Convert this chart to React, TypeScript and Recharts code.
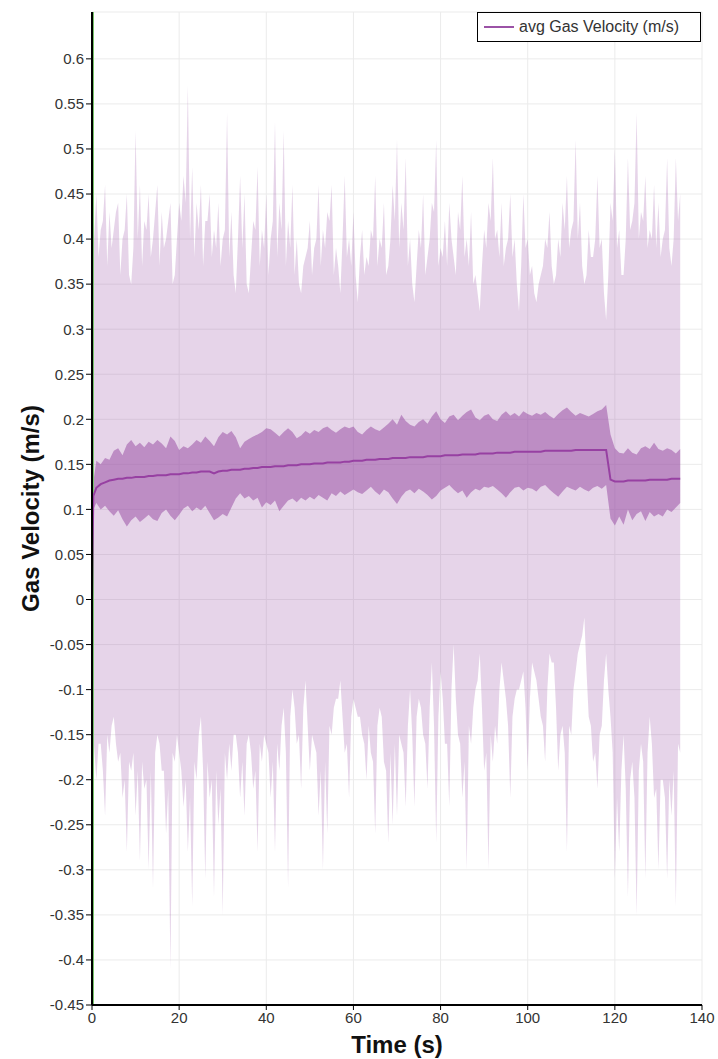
import {
    ComposedChart,
    Area,
    Line,
    XAxis,
    YAxis,
    CartesianGrid,
    ReferenceLine
} from "recharts";

// sample times (s): start-up point at 0.3 s, then one sample per second
const sampleTimes = [0, 0.3, ...Array.from({ length: 135 }, (_, i) => i + 1)];
// extra envelope samples half-way between the whole seconds (1.5 ... 134.5)
const halfTimes = Array.from({ length: 134 }, (_, i) => i + 1.5);

// average gas velocity (m/s)
const avgVelocity = [
    0, 0.115,
    0.124, 0.128, 0.130, 0.132, 0.133, 0.134, 0.134, 0.135, 0.135, 0.136,
    0.136, 0.136, 0.137, 0.137, 0.138, 0.138, 0.138, 0.139, 0.139, 0.139,
    0.140, 0.140, 0.141, 0.141, 0.142, 0.142, 0.142, 0.140, 0.142, 0.143,
    0.143, 0.144, 0.144, 0.144, 0.145, 0.145, 0.146, 0.146, 0.147, 0.147,
    0.147, 0.148, 0.148, 0.148, 0.149, 0.149, 0.149, 0.150, 0.150, 0.150,
    0.151, 0.151, 0.151, 0.152, 0.152, 0.152, 0.152, 0.153, 0.153, 0.154,
    0.154, 0.154, 0.155, 0.155, 0.155, 0.156, 0.156, 0.156, 0.157, 0.157,
    0.157, 0.157, 0.158, 0.158, 0.158, 0.158, 0.159, 0.159, 0.159, 0.159,
    0.160, 0.160, 0.160, 0.160, 0.161, 0.161, 0.161, 0.161, 0.162, 0.162,
    0.162, 0.162, 0.163, 0.163, 0.163, 0.163, 0.164, 0.164, 0.164, 0.164,
    0.164, 0.164, 0.164, 0.165, 0.165, 0.165, 0.165, 0.165, 0.165, 0.165,
    0.166, 0.166, 0.166, 0.166, 0.166, 0.166, 0.166, 0.166, 0.133, 0.131,
    0.131, 0.131, 0.132, 0.132, 0.132, 0.132, 0.132, 0.133, 0.133, 0.133,
    0.133, 0.133, 0.134, 0.134, 0.134
];

// upper / lower edge of the dark band around the average
const bandHigh = [
    0, 0.13,
    0.154, 0.150, 0.157, 0.155, 0.165, 0.168, 0.160, 0.172, 0.177, 0.170,
    0.174, 0.169, 0.175, 0.172, 0.177, 0.173, 0.168, 0.181, 0.176, 0.166,
    0.170, 0.168, 0.172, 0.177, 0.174, 0.181, 0.176, 0.170, 0.180, 0.186,
    0.183, 0.187, 0.180, 0.168, 0.175, 0.178, 0.181, 0.183, 0.186, 0.190,
    0.189, 0.185, 0.181, 0.186, 0.190, 0.186, 0.179, 0.182, 0.187, 0.184,
    0.188, 0.186, 0.190, 0.192, 0.188, 0.185, 0.189, 0.192, 0.190, 0.192,
    0.186, 0.183, 0.188, 0.192, 0.189, 0.187, 0.191, 0.195, 0.200, 0.194,
    0.205, 0.198, 0.194, 0.192, 0.197, 0.200, 0.195, 0.203, 0.209, 0.200,
    0.196, 0.203, 0.205, 0.199, 0.204, 0.208, 0.211, 0.202, 0.199, 0.204,
    0.206, 0.200, 0.198, 0.205, 0.209, 0.204, 0.207, 0.203, 0.209, 0.206,
    0.204, 0.207, 0.205, 0.208, 0.204, 0.201, 0.206, 0.210, 0.213, 0.208,
    0.204, 0.207, 0.205, 0.203, 0.206, 0.209, 0.211, 0.216, 0.183, 0.168,
    0.163, 0.162, 0.168, 0.163, 0.161, 0.168, 0.170, 0.167, 0.174, 0.167,
    0.165, 0.168, 0.166, 0.162, 0.167
];

const bandLow = [
    0, 0.10,
    0.107, 0.100, 0.104, 0.098, 0.093, 0.099, 0.089, 0.081, 0.088, 0.092,
    0.086, 0.090, 0.094, 0.089, 0.087, 0.096, 0.100, 0.093, 0.088, 0.094,
    0.101, 0.104, 0.098, 0.102, 0.099, 0.104, 0.096, 0.088, 0.091, 0.095,
    0.092, 0.102, 0.112, 0.118, 0.112, 0.115, 0.110, 0.113, 0.102, 0.108,
    0.105, 0.110, 0.098, 0.104, 0.110, 0.112, 0.108, 0.113, 0.110, 0.114,
    0.111, 0.116, 0.113, 0.110, 0.118, 0.115, 0.120, 0.116, 0.119, 0.122,
    0.119, 0.117, 0.121, 0.125, 0.120, 0.116, 0.122, 0.119, 0.112, 0.106,
    0.114, 0.120, 0.122, 0.118, 0.123, 0.120, 0.116, 0.111, 0.115, 0.121,
    0.124, 0.127, 0.122, 0.118, 0.121, 0.113, 0.119, 0.123, 0.121, 0.125,
    0.124, 0.126, 0.122, 0.118, 0.113, 0.119, 0.124, 0.125, 0.121, 0.124,
    0.123, 0.120, 0.125, 0.127, 0.122, 0.118, 0.114, 0.120, 0.125, 0.123,
    0.121, 0.125, 0.122, 0.120, 0.124, 0.126, 0.123, 0.127, 0.090, 0.082,
    0.092, 0.083, 0.100, 0.088, 0.095, 0.098, 0.087, 0.097, 0.092, 0.095,
    0.092, 0.100, 0.097, 0.102, 0.107
];

// maximum / minimum of the velocity field at the whole seconds
const rangeHigh = [
    0, 0.38,
    0.45, 0.41, 0.46, 0.43, 0.41, 0.44, 0.40, 0.45, 0.35, 0.52,
    0.46, 0.42, 0.45, 0.40, 0.46, 0.43, 0.40, 0.44, 0.36, 0.44,
    0.47, 0.57, 0.48, 0.44, 0.46, 0.42, 0.45, 0.41, 0.44, 0.40,
    0.54, 0.43, 0.34, 0.47, 0.45, 0.34, 0.42, 0.48, 0.41, 0.45,
    0.40, 0.53, 0.44, 0.52, 0.42, 0.46, 0.40, 0.34, 0.38, 0.42,
    0.39, 0.46, 0.41, 0.43, 0.46, 0.39, 0.34, 0.47, 0.40, 0.43,
    0.33, 0.41, 0.38, 0.41, 0.47, 0.40, 0.44, 0.37, 0.46, 0.51,
    0.44, 0.49, 0.40, 0.33, 0.41, 0.45, 0.38, 0.44, 0.51, 0.39,
    0.42, 0.44, 0.38, 0.43, 0.47, 0.40, 0.43, 0.36, 0.32, 0.41,
    0.44, 0.49, 0.41, 0.44, 0.39, 0.45, 0.40, 0.32, 0.45, 0.40,
    0.37, 0.33, 0.36, 0.40, 0.43, 0.35, 0.40, 0.44, 0.47, 0.41,
    0.51, 0.44, 0.35, 0.41, 0.38, 0.47, 0.40, 0.31, 0.44, 0.50,
    0.41, 0.36, 0.49, 0.42, 0.54, 0.43, 0.47, 0.41, 0.46, 0.44,
    0.40, 0.49, 0.37, 0.49, 0.45
];

const rangeLow = [
    0, -0.15,
    -0.20, -0.16, -0.24, -0.17, -0.13, -0.18, -0.22, -0.28, -0.19, -0.24,
    -0.29, -0.21, -0.30, -0.32, -0.15, -0.19, -0.26, -0.41, -0.18, -0.17,
    -0.23, -0.28, -0.34, -0.20, -0.13, -0.31, -0.22, -0.33, -0.25, -0.35,
    -0.20, -0.19, -0.15, -0.22, -0.24, -0.15, -0.21, -0.28, -0.18, -0.16,
    -0.22, -0.28, -0.19, -0.12, -0.32, -0.10, -0.16, -0.21, -0.09, -0.19,
    -0.16, -0.24, -0.30, -0.26, -0.15, -0.11, -0.09, -0.17, -0.22, -0.11,
    -0.13, -0.15, -0.20, -0.17, -0.26, -0.12, -0.18, -0.27, -0.25, -0.24,
    -0.16, -0.23, -0.10, -0.23, -0.11, -0.15, -0.21, -0.07, -0.27, -0.08,
    -0.16, -0.23, -0.05, -0.15, -0.22, -0.30, -0.16, -0.10, -0.06, -0.19,
    -0.30, -0.18, -0.16, -0.07, -0.11, -0.22, -0.11, -0.10, -0.08, -0.19,
    -0.07, -0.09, -0.13, -0.18, -0.06, -0.07, -0.19, -0.14, -0.28, -0.15,
    -0.08, -0.05, -0.02, -0.13, -0.18, -0.21, -0.14, -0.06, -0.13, -0.31,
    -0.28, -0.15, -0.33, -0.18, -0.35, -0.16, -0.31, -0.13, -0.22, -0.30,
    -0.20, -0.31, -0.24, -0.34, -0.17
];

// maximum / minimum at the half seconds
const rangeHighHalf = [
    0.38, 0.42, 0.37, 0.39, 0.43, 0.36, 0.41, 0.36, 0.39, 0.40,
    0.37, 0.41, 0.38, 0.43, 0.37, 0.39, 0.42, 0.35, 0.40, 0.42,
    0.44, 0.40, 0.38, 0.41, 0.37, 0.42, 0.38, 0.39, 0.37, 0.41,
    0.38, 0.36, 0.40, 0.39, 0.35, 0.38, 0.41, 0.37, 0.39, 0.36,
    0.42, 0.38, 0.41, 0.37, 0.39, 0.36, 0.35, 0.37, 0.39, 0.36,
    0.40, 0.37, 0.39, 0.42, 0.36, 0.37, 0.40, 0.38, 0.37, 0.36,
    0.38, 0.36, 0.37, 0.40, 0.37, 0.39, 0.36, 0.40, 0.42, 0.39,
    0.41, 0.37, 0.35, 0.37, 0.39, 0.36, 0.40, 0.43, 0.37, 0.38,
    0.37, 0.40, 0.36, 0.41, 0.38, 0.37, 0.35, 0.34, 0.37, 0.39,
    0.42, 0.40, 0.38, 0.37, 0.40, 0.38, 0.35, 0.37, 0.39, 0.36,
    0.34, 0.35, 0.37, 0.39, 0.37, 0.36, 0.38, 0.41, 0.39, 0.42,
    0.40, 0.37, 0.36, 0.38, 0.40, 0.39, 0.34, 0.36, 0.42, 0.39,
    0.36, 0.40, 0.41, 0.44, 0.40, 0.42, 0.39, 0.40, 0.39, 0.38,
    0.41, 0.39, 0.40, 0.42
];

const rangeLowHalf = [
    -0.16, -0.19, -0.15, -0.14, -0.16, -0.17, -0.20, -0.18, -0.17, -0.19,
    -0.18, -0.20, -0.19, -0.17, -0.16, -0.19, -0.21, -0.17, -0.15, -0.19,
    -0.20, -0.22, -0.18, -0.15, -0.19, -0.18, -0.20, -0.19, -0.21, -0.17,
    -0.16, -0.15, -0.17, -0.18, -0.16, -0.17, -0.19, -0.16, -0.15, -0.17,
    -0.18, -0.16, -0.14, -0.17, -0.13, -0.12, -0.15, -0.12, -0.14, -0.15,
    -0.17, -0.19, -0.18, -0.14, -0.12, -0.11, -0.13, -0.16, -0.13, -0.12,
    -0.13, -0.16, -0.14, -0.18, -0.14, -0.13, -0.19, -0.17, -0.16, -0.15,
    -0.17, -0.14, -0.15, -0.13, -0.12, -0.16, -0.12, -0.14, -0.13, -0.11,
    -0.16, -0.10, -0.11, -0.16, -0.18, -0.14, -0.12, -0.09, -0.12, -0.17,
    -0.15, -0.14, -0.10, -0.09, -0.14, -0.13, -0.10, -0.09, -0.12, -0.11,
    -0.08, -0.11, -0.14, -0.10, -0.07, -0.12, -0.15, -0.17, -0.14, -0.10,
    -0.06, -0.04, -0.08, -0.14, -0.17, -0.15, -0.09, -0.10, -0.17, -0.22,
    -0.19, -0.21, -0.20, -0.22, -0.19, -0.18, -0.17, -0.16, -0.21, -0.20,
    -0.22, -0.20, -0.19, -0.16
];

const xTicks = [0, 20, 40, 60, 80, 100, 120, 140];
const yTicks = [
    -0.45, -0.4, -0.35, -0.3, -0.25, -0.2, -0.15, -0.1, -0.05, 0,
    0.05, 0.1, 0.15, 0.2, 0.25, 0.3, 0.35, 0.4, 0.45, 0.5, 0.55, 0.6
];

const SERIES_COLOR = "#9b52a6";
const LINE_COLOR = "#9740a2";
const FONT = "'Liberation Sans', Arial, sans-serif";

const data: any[] = [
    ...sampleTimes.map((t, i) => ({
        t,
        range: [rangeLow[i], rangeHigh[i]],
        band: [bandLow[i], bandHigh[i]],
        avg: avgVelocity[i]
    })),
    ...halfTimes.map((t, i) => ({
        t,
        range: [rangeLowHalf[i], rangeHighHalf[i]]
    }))
].sort((a, b) => a.t - b.t);

const fmtTick = (v: number) => String(Number(v.toFixed(2)));

const YTitle = ({ viewBox }: any) => {
    const cx = 30;
    const cy = viewBox.y + viewBox.height / 2;
    return (
        <text
            x={cx}
            y={cy}
            transform={`rotate(-90 ${cx} ${cy})`}
            textAnchor="middle"
            dominantBaseline="central"
            fontFamily={FONT}
            fontWeight="bold"
            fontSize={24}
            fill="#111"
        >
            Gas Velocity (m/s)
        </text>
    );
};

const XTitle = ({ viewBox }: any) => {
    const cx = viewBox.x + viewBox.width / 2;
    return (
        <text
            x={cx}
            y={1044}
            textAnchor="middle"
            dominantBaseline="central"
            fontFamily={FONT}
            fontWeight="bold"
            fontSize={24}
            fill="#111"
        >
            Time (s)
        </text>
    );
};

// thin green marker just inside the left axis
const GreenEdge = (props: any) => (
    <line
        x1={props.x1 + 1.5}
        y1={props.y1}
        x2={props.x2 + 1.5}
        y2={props.y2}
        stroke="#79c46d"
        strokeWidth={1}
    />
);

const App = () => {
    const tickStyle = { fontFamily: FONT, fontSize: 15, fill: "#333" };

    return (
        <div
            style={{
                position: "absolute",
                left: 0,
                top: 0,
                width: 718,
                height: 1059,
                background: "#fff"
            }}
        >
            <ComposedChart
                width={718}
                height={1059}
                data={data}
                margin={{ top: 12, right: 16, bottom: 0, left: 0 }}
            >
                <CartesianGrid stroke="#ebebeb" strokeWidth={1} />

                <XAxis
                    dataKey="t"
                    type="number"
                    domain={[0, 140]}
                    ticks={xTicks}
                    height={54}
                    tickSize={5}
                    tick={tickStyle}
                    axisLine={{ stroke: "#000", strokeWidth: 2 }}
                    tickLine={{ stroke: "#000" }}
                    label={XTitle}
                />

                <YAxis
                    type="number"
                    domain={[-0.45, 0.652]}
                    ticks={yTicks}
                    interval={0}
                    allowDataOverflow
                    width={92}
                    tickSize={6}
                    tickFormatter={fmtTick}
                    tick={tickStyle}
                    axisLine={{ stroke: "#000", strokeWidth: 2 }}
                    tickLine={{ stroke: "#000" }}
                    label={YTitle}
                />

                <ReferenceLine x={0} shape={GreenEdge} />

                <Area
                    type="linear"
                    dataKey="range"
                    stroke="none"
                    fill={SERIES_COLOR}
                    fillOpacity={0.25}
                    isAnimationActive={false}
                />

                <Area
                    type="linear"
                    dataKey="band"
                    stroke="none"
                    fill={SERIES_COLOR}
                    fillOpacity={0.55}
                    connectNulls
                    isAnimationActive={false}
                />

                <Line
                    type="linear"
                    dataKey="avg"
                    stroke={LINE_COLOR}
                    strokeWidth={2}
                    dot={false}
                    connectNulls
                    isAnimationActive={false}
                />
            </ComposedChart>

            <div
                style={{
                    position: "absolute",
                    left: 477,
                    top: 12,
                    width: 222,
                    height: 28,
                    border: "1.5px solid #000",
                    background: "#fff",
                    display: "flex",
                    alignItems: "center",
                    fontFamily: FONT,
                    fontSize: 16,
                    color: "#333"
                }}
            >
                <span
                    style={{
                        display: "inline-block",
                        width: 30,
                        height: 2,
                        marginLeft: 6,
                        background: SERIES_COLOR
                    }}
                />
                <span style={{ marginLeft: 5, whiteSpace: "nowrap" }}>
                    avg Gas Velocity (m/s)
                </span>
            </div>
        </div>
    );
};

export default App;
